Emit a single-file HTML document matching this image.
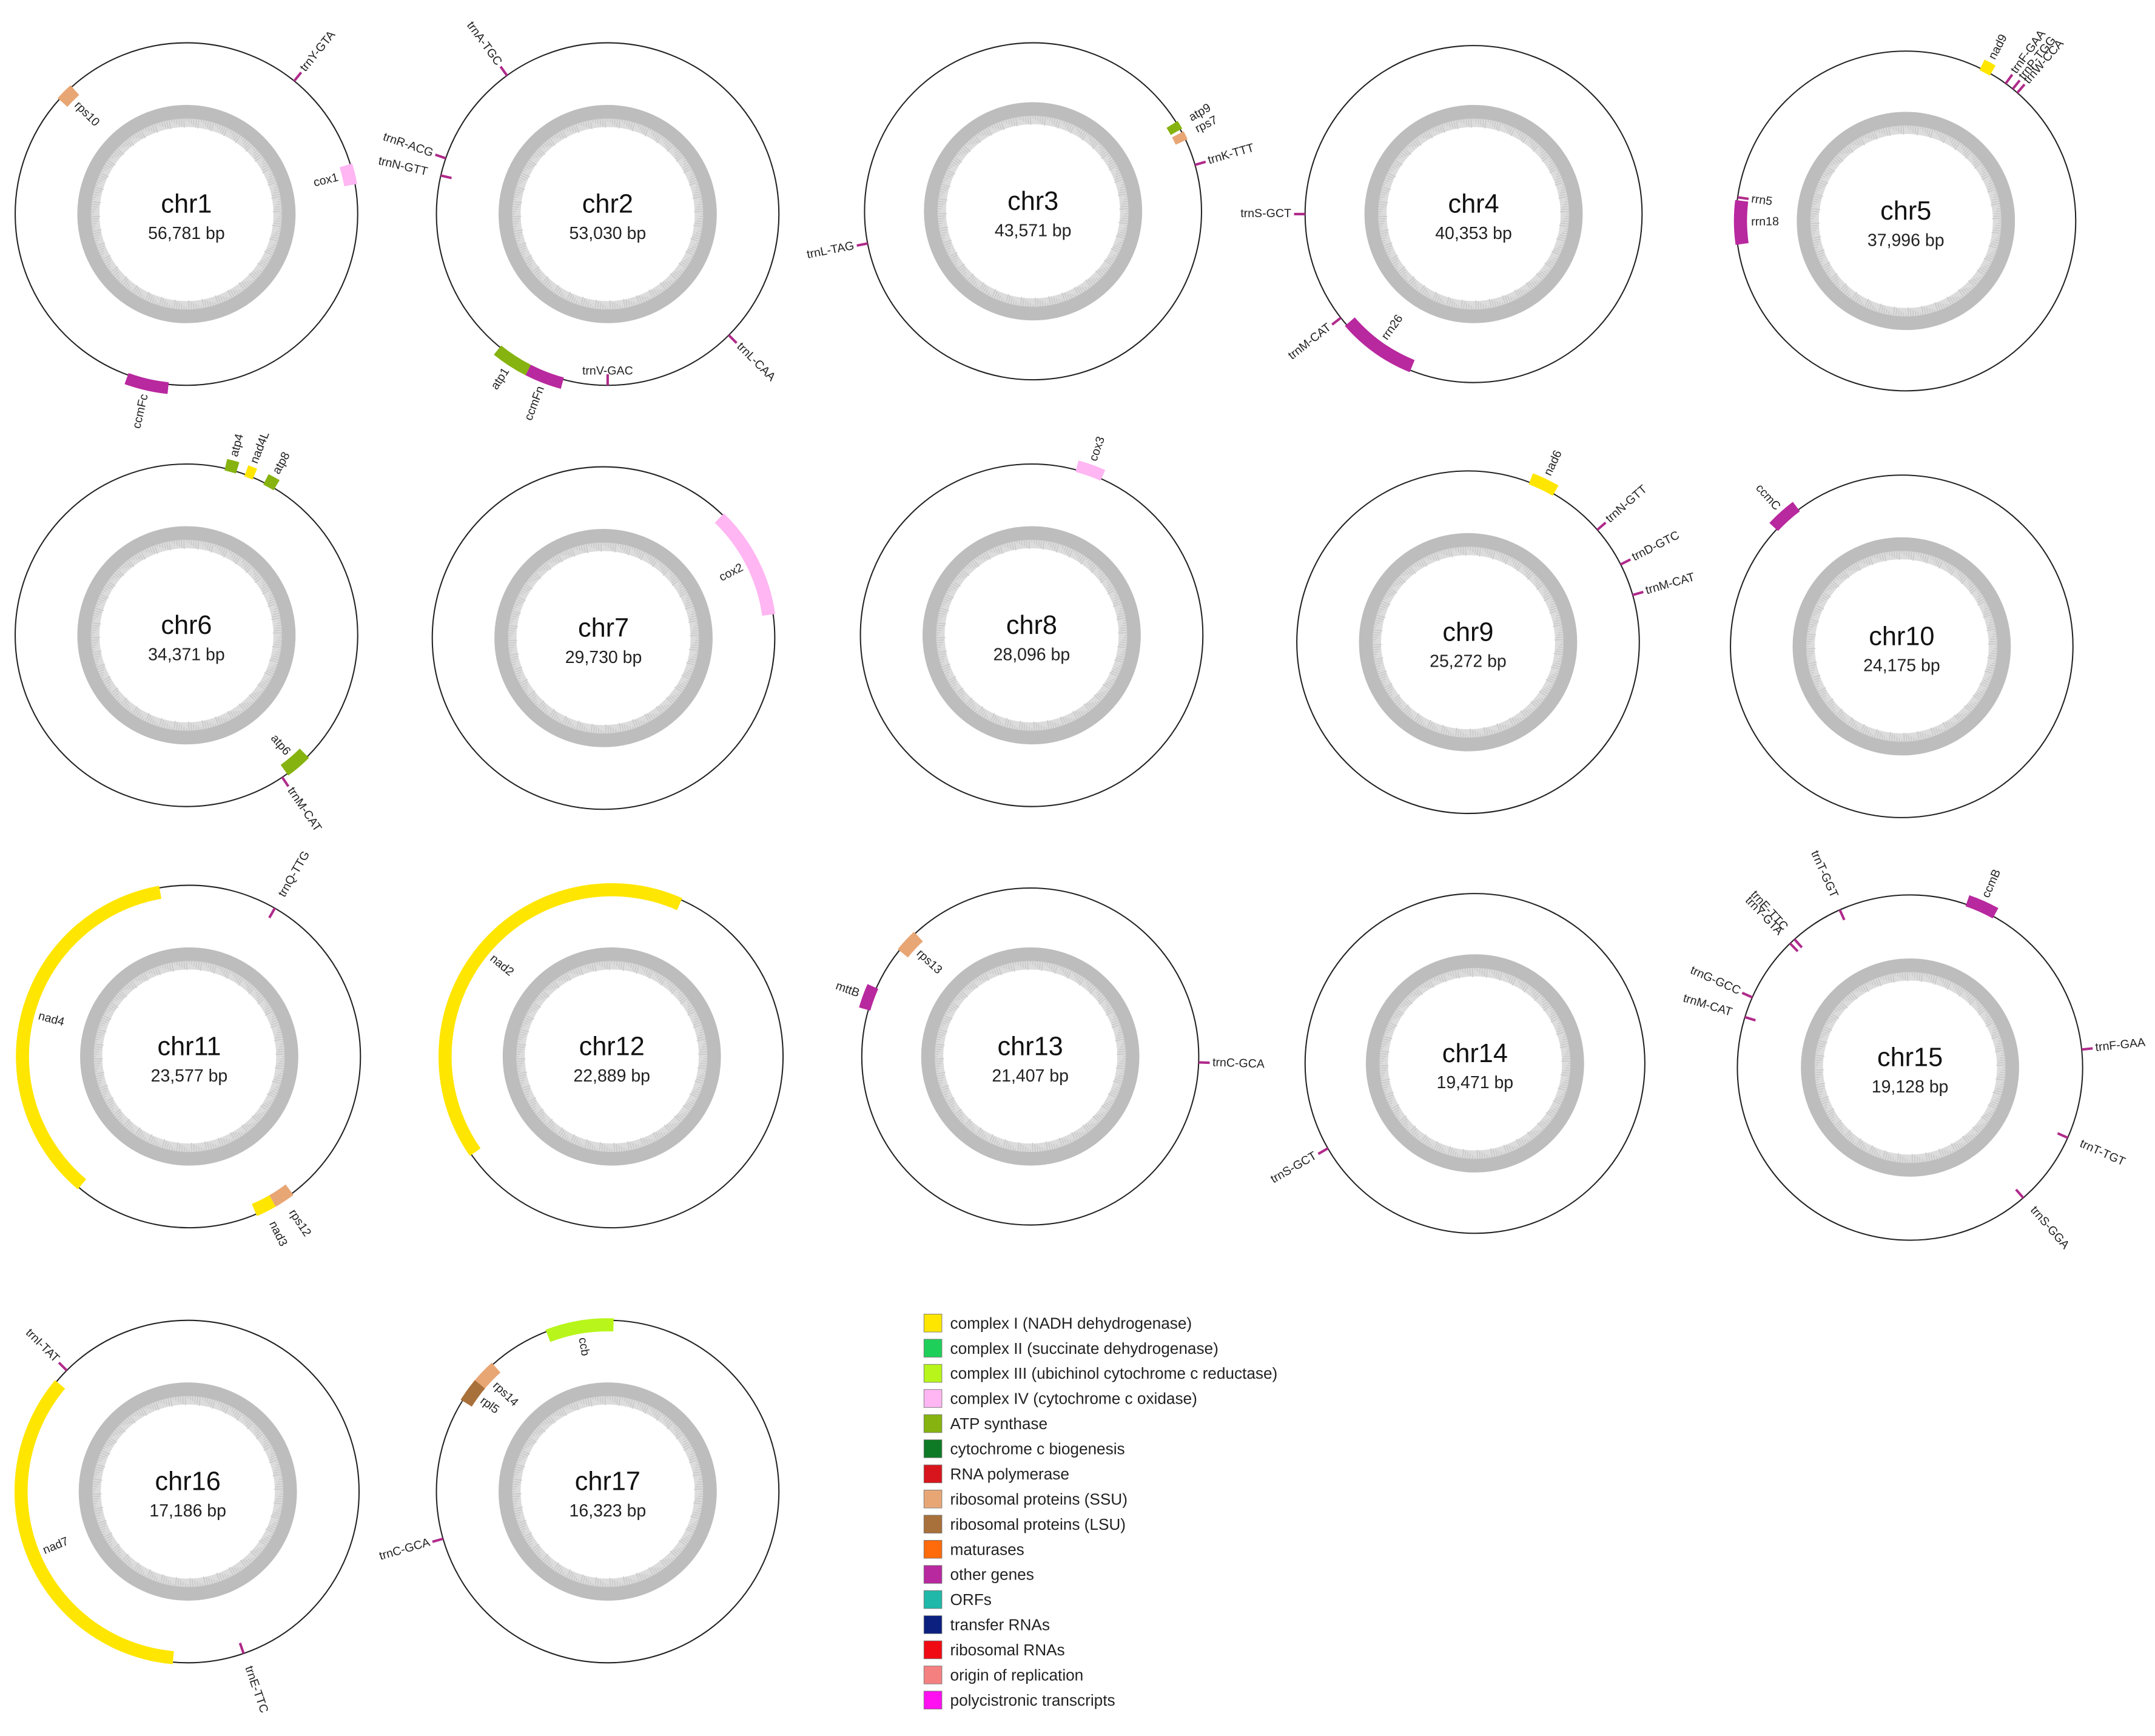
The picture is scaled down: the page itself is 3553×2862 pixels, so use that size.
<!DOCTYPE html>
<html><head><meta charset="utf-8">
<style>
html,body{margin:0;padding:0;background:#fff;}
svg{display:block;}
text{font-family:"Liberation Sans",Arial,sans-serif;}
</style></head>
<body>
<svg id="chart" width="3553" height="2862" viewBox="0 0 1560.4 1257" preserveAspectRatio="none" xmlns="http://www.w3.org/2000/svg"></svg>
<script>
// ---- chromosome data ----
const chrNames = ["chr1","chr2","chr3","chr4","chr5","chr6","chr7","chr8","chr9","chr10","chr11","chr12","chr13","chr14","chr15","chr16","chr17"];
const chrLengths = ["56,781","53,030","43,571","40,353","37,996","34,371","29,730","28,096","25,272","24,175","23,577","22,889","21,407","19,471","19,128","17,186","16,323"];
// ---- feature data (angles in degrees clockwise from top) ----
const featChr = [0,0,0,0, 1,1,1,1,1,1,1, 2,2,2,2, 3,3,3, 4,4,4,4,4,4, 5,5,5,5,5, 6, 7, 8,8,8,8, 9, 10,10,10,10, 11, 12,12,12, 13, 14,14,14,14,14,14,14,14,14, 15,15,15, 16,16,16,16];
const featName = ["trnY-GTA","rps10","cox1","ccmFc",
 "trnA-TGC","trnR-ACG","trnN-GTT","trnL-CAA","trnV-GAC","atp1","ccmFn",
 "atp9","rps7","trnK-TTT","trnL-TAG",
 "trnS-GCT","trnM-CAT","rrn26",
 "nad9","trnF-GAA","trnP-TGG","trnW-CCA","rrn5","rrn18",
 "atp4","nad4L","atp8","atp6","trnM-CAT",
 "cox2",
 "cox3",
 "nad6","trnN-GTT","trnD-GTC","trnM-CAT",
 "ccmC",
 "trnQ-TTG","nad4","nad3","rps12",
 "nad2",
 "mttB","rps13","trnC-GCA",
 "trnS-GCT",
 "ccmB","trnT-GGT","trnE-TTC","trnY-GTA","trnG-GCC","trnM-CAT","trnF-GAA","trnT-TGT","trnS-GGA",
 "trnI-TAT","nad7","trnE-TTC",
 "ccb","rps14","rpl5","trnC-GCA"];
const featStart = [39,312,73,186, 324,289,283,135,180,207,195, 58,62,74,259, 270,232,202, 26,36,39,41,278,262, 13,20,27,135,146, 44, 15, 21,49,63,74, 313, 30,220,150,143, 235, 286,309,92, 240, 19,336,318,316,294,287,84,114,139, 315,185,161, 339,309,302,254];
const featEnd   = [39,318,80,200, 324,289,283,135,180,219,207, 61,65,74,259, 270,232,229, 30,36,39,41,278,277, 17,23,31,144,146, 82, 24, 30,49,63,74, 323, 30,350,157,150, 384, 294,317,92, 240, 29,336,318,316,294,287,84,114,139, 315,310,161, 362,318,310,254];
const featType  = [12,7,3,10, 12,12,12,12,12,4,10, 4,7,12,12, 12,12,10, 0,12,12,12,10,10, 4,0,4,4,12, 3, 3, 0,12,12,12, 10, 12,0,0,7, 0, 10,7,12, 12, 10,12,12,12,12,12,12,12,12, 12,0,12, 2,7,8,12];
const featStrand= [1,-1,-1,1, 1,1,-1,1,-1,1,1, -1,-1,1,1, 1,1,-1, 1,1,1,1,-1,-1, 1,1,1,-1,1, -1, 1, 1,1,1,1, 1, -1,-1,-1,-1, -1, 1,-1,1, 1, 1,-1,-1,-1,1,-1,1,-1,-1, 1,-1,-1, -1,-1,-1,1];
const featLabelSide = [1,-1,-1,1, 1,1,1,1,-1,1,1, 1,1,1,1, 1,1,-1, 1,1,1,1,-1,-1, 1,1,1,-1,1, -1, 1, 1,1,1,1, 1, 1,-1,1,1, -1, 1,-1,1, 1, 1,1,1,1,1,1,1,1,1, 1,-1,1, -1,-1,-1,1];
// ---- legend data ----
const legendLabels = ["complex I (NADH dehydrogenase)","complex II (succinate dehydrogenase)","complex III (ubichinol cytochrome c reductase)","complex IV (cytochrome c oxidase)","ATP synthase","cytochrome c biogenesis","RNA polymerase","ribosomal proteins (SSU)","ribosomal proteins (LSU)","maturases","other genes","ORFs","transfer RNAs","ribosomal RNAs","origin of replication","polycistronic transcripts"];
const legendColors = ["#ffe600","#1ed05a","#b8f51a","#ffb6f2","#86b30f","#0e7a25","#d8141c","#e8a675","#a8703a","#ff6a0a","#b8289e","#20b8a8","#0c2080","#f00a14","#f58080","#ff10f0"];
const tickColor = "#b02a8a";

// ---- layout ----
const layoutCX = [135,440,748,1067,1380, 135,437,747,1063,1377, 137,443,746,1068,1383, 136,440];
const layoutCY = [155,155,153,155,160, 460,462,460,465,468, 765,765,765,770,773, 1080,1080];
const layoutR  = [124,124,122,122,123, 124,124,124,124,124, 124,124,122,123,125, 124,124];

const NS="http://www.w3.org/2000/svg";
const svg=document.getElementById('chart');
function mk(tag,attrs,parent){const e=document.createElementNS(NS,tag);for(const k in attrs)e.setAttribute(k,attrs[k]);(parent||svg).appendChild(e);return e;}
function pt(cx,cy,r,deg){const a=deg*Math.PI/180;return [cx+r*Math.sin(a),cy-r*Math.cos(a)];}
function arcPath(cx,cy,r1,r2,a1,a2){
  const large=(a2-a1)>180?1:0;
  const p1=pt(cx,cy,r2,a1),p2=pt(cx,cy,r2,a2),p3=pt(cx,cy,r1,a2),p4=pt(cx,cy,r1,a1);
  return `M${p1[0]},${p1[1]} A${r2},${r2} 0 ${large} 1 ${p2[0]},${p2[1]} L${p3[0]},${p3[1]} A${r1},${r1} 0 ${large} 0 ${p4[0]},${p4[1]} Z`;
}

chrNames.forEach((name,i)=>{
  const cx=layoutCX[i],cy=layoutCY[i],r=layoutR[i];
  const g=mk('g',{});
  
  
  const ring=mk('circle',{cx,cy,r:74,fill:'none',stroke:'#bdbdbd','stroke-width':10},g);
  
  
  const ring2=mk('circle',{cx,cy,r:66,fill:'none',stroke:'#dcdcdc','stroke-width':6},g);
  
  
  for(let k=0;k<240;k++){
    const a=k*1.5, l=2+((k*7)%6);
    const p1=pt(cx,cy,69.5,a),p2=pt(cx,cy,69.5-l,a);
    mk('line',{x1:p1[0],y1:p1[1],x2:p2[0],y2:p2[1],stroke:'#c6c6c6','stroke-width':0.6},g);
  }
  const c=mk('circle',{cx,cy,r,fill:'none',stroke:'#222','stroke-width':0.9},g);
  
  
  const t1=mk('text',{x:cx,y:cy-1,'text-anchor':'middle','font-size':19,fill:'#111'},g);
  t1.textContent=name;
  
  
  const t2=mk('text',{x:cx,y:cy+18,'text-anchor':'middle','font-size':12.5,fill:'#222'},g);
  t2.textContent=chrLengths[i]+' bp';
  
  
});

featName.forEach((fname,j)=>{
  const i=featChr[j],cx=layoutCX[i],cy=layoutCY[i],r=layoutR[i];
  const a1=featStart[j],a2=featEnd[j],s=featStrand[j];
  const col=legendColors[featType[j]];
  let outerEdge, innerEdge;
  if(a1===a2){
    const r1=s>0?r:r-8, r2=s>0?r+8:r;
    const p1=pt(cx,cy,r1,a1),p2=pt(cx,cy,r2,a1);
    const ln=mk('line',{x1:p1[0],y1:p1[1],x2:p2[0],y2:p2[1],stroke:tickColor,'stroke-width':1.8});
    
    
    outerEdge=r+8; innerEdge=r-8;
  } else {
    const r1=s>0?r-1.5:r-8, r2=s>0?r+7:r+1.5;
    const p=mk('path',{d:arcPath(cx,cy,r1,r2,a1,a2),fill:col});
    
    
    outerEdge=r+8; innerEdge=r-9;
  }
  const mid=((a1+a2)/2)%360;
  const side=featLabelSide[j];
  const lr=side>0?outerEdge+2:innerEdge-2;
  const lp=pt(cx,cy,lr,mid);
  const right=mid<180;
  let rot, anchor;
  if(side>0){ rot=right?mid-90:mid+90; anchor=right?'start':'end'; }
  else { rot=right?mid-90:mid+90; anchor=right?'end':'start'; }
  if(fname==='trnV-GAC'){ rot=0; anchor='middle'; }
  const t=mk('text',{x:lp[0],y:lp[1],'text-anchor':anchor,'dominant-baseline':'middle','font-size':8.6,fill:'#222',transform:`rotate(${rot} ${lp[0]} ${lp[1]})`});
  t.textContent=fname;
  
  
});

const lg=mk('g',{});


legendLabels.forEach((lab,k)=>{
  const y=958+k*18.2;
  const sq=mk('rect',{x:669,y:y-6.5,width:13,height:13,fill:legendColors[k],stroke:'#777','stroke-width':0.4},lg);
  
  
  const t=mk('text',{x:688,y:y+4,'font-size':11.5,fill:'#222'},lg);
  t.textContent=lab;
  
  
});
</script>
</body></html>
